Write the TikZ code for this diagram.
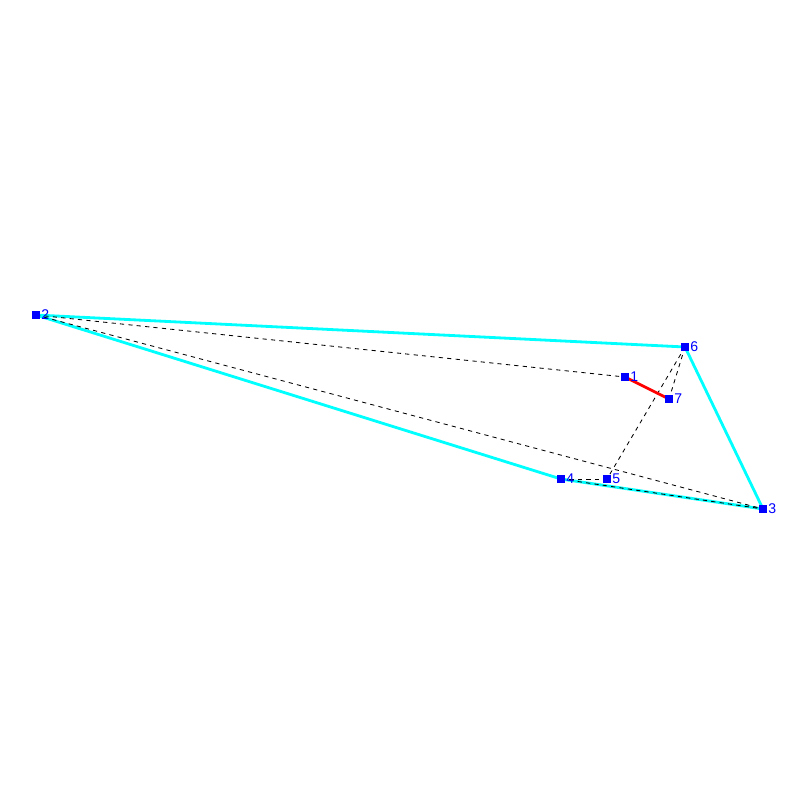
\documentclass[tikz,border=0pt]{standalone}
\usepackage{fontspec}
\setmainfont{Liberation Sans}
\usetikzlibrary{backgrounds}
\definecolor{hullcyan}{RGB}{0,255,255}
\definecolor{ptblue}{RGB}{0,0,255}
\definecolor{cutred}{RGB}{255,0,0}
\tikzset{
        vertex/.style = {draw=none, fill=ptblue, rectangle, minimum size=0.2cm, inner sep=0pt},
        vlabel/.style = {text=ptblue, font=\fontsize{10}{10}\selectfont, inner sep=0.5pt},
        hull/.style = {draw=hullcyan, line width=2pt},
        diag/.style = {draw=black, dashed, line width=0.6pt},
        cut/.style = {draw=cutred, line width=2pt},
    }
\begin{document}
\begin{tikzpicture}[x=0.025cm, y=-0.025cm]
    \useasboundingbox (0,0) rectangle (800,800);
    \node [vertex, label={[vlabel]right:1}] (p1) at (625,377) {};
    \node [vertex, label={[vlabel]right:2}] (p2) at (36,315) {};
    \node [vertex, label={[vlabel]right:3}] (p3) at (763,509) {};
    \node [vertex, label={[vlabel]right:4}] (p4) at (561,479) {};
    \node [vertex, label={[vlabel]right:5}] (p5) at (607,479) {};
    \node [vertex, label={[vlabel]right:6}] (p6) at (685,347) {};
    \node [vertex, label={[vlabel]right:7}] (p7) at (669,399) {};

    \begin{pgfonlayer}{background}
    \draw [hull] (p2.center) -- (p6.center) -- (p3.center) -- (p4.center) -- (p2.center);
    \draw [diag] (p2.center) -- (p1.center);
    \draw [diag] (p2.center) -- (p3.center);
    \draw [diag] (p6.center) -- (p7.center);
    \draw [diag] (p6.center) -- (p5.center);
    \draw [diag] (p4.center) -- (p5.center);
    \draw [diag] (p4.center) -- (p3.center);
    \draw [cut] (p1.center) -- (p7.center);
    \end{pgfonlayer}
\end{tikzpicture}
\end{document}
